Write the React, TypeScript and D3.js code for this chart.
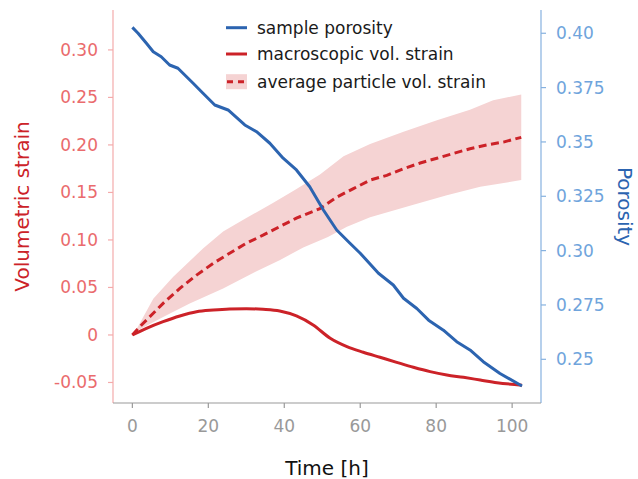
import React from "react";
import * as d3 from "d3";

// sample porosity (right axis)
const porTime = [0, 1.5, 3.7, 5.5, 7.6, 9.8, 12.0, 16.0, 18.6, 21.7, 25.2, 29.6, 32.7, 36.2, 39.7, 43.2, 46.7, 50.3, 53.8, 57.3, 60.0, 64.8, 68.7, 71.4, 74.9, 78.0, 81.9, 85.4, 88.9, 92.4, 96.8, 102.6];
const porosity = [0.4027, 0.4, 0.3954, 0.3915, 0.3892, 0.3854, 0.3839, 0.377, 0.3724, 0.367, 0.3647, 0.3578, 0.3547, 0.3494, 0.3425, 0.3371, 0.3294, 0.3187, 0.3095, 0.3034, 0.2988, 0.2896, 0.2842, 0.2781, 0.2734, 0.268, 0.2634, 0.2581, 0.2543, 0.2489, 0.2435, 0.2377];

// macroscopic vol. strain (left axis)
const macroTime = [0, 3.7, 8.1, 12.5, 16.9, 21.3, 25.6, 30.0, 34.4, 38.8, 43.2, 47.6, 52.1, 56.5, 60.8, 65.2, 69.6, 74.0, 78.4, 82.8, 87.2, 91.6, 96.0, 102.6];
const macroStrain = [0, 0.007, 0.014, 0.02, 0.0245, 0.0263, 0.0274, 0.0277, 0.027, 0.0252, 0.02, 0.0105, -0.0035, -0.0123, -0.0182, -0.0235, -0.0288, -0.034, -0.0386, -0.0421, -0.0446, -0.0474, -0.0502, -0.0528];

// average particle vol. strain (left axis)
const partTime = [0, 2.4, 5.5, 8.1, 12.5, 16.9, 21.3, 25.6, 30.0, 34.4, 38.8, 43.2, 49.4, 53.8, 58.2, 62.6, 67.0, 71.4, 75.8, 80.2, 84.5, 88.9, 93.3, 97.7, 102.4];
const partMean = [0, 0.0105, 0.0228, 0.0333, 0.049, 0.063, 0.0754, 0.086, 0.0965, 0.105, 0.114, 0.123, 0.133, 0.145, 0.154, 0.163, 0.168, 0.175, 0.181, 0.186, 0.191, 0.196, 0.2, 0.203, 0.208];

// band edges
const upperTime = [0, 1.5, 5.5, 10.7, 18.6, 23.9, 30.0, 37.0, 43.0, 49.4, 55.6, 62.6, 71.4, 80.2, 88.9, 95.0, 102.4];
const upperStrain = [0, 0.009, 0.038, 0.061, 0.091, 0.109, 0.123, 0.139, 0.153, 0.169, 0.188, 0.201, 0.214, 0.226, 0.237, 0.247, 0.253];
const lowerTime = [0, 1.5, 8.1, 15.1, 23.9, 32.7, 38.9, 45.0, 51.5, 56.5, 62.6, 74.0, 82.8, 91.6, 102.4];
const lowerStrain = [0, 0.005, 0.019, 0.033, 0.049, 0.067, 0.079, 0.092, 0.103, 0.114, 0.124, 0.137, 0.147, 0.156, 0.163];

const xTicks = [0, 20, 40, 60, 80, 100];
const leftTicks = [0.3, 0.25, 0.2, 0.15, 0.1, 0.05, 0, -0.05];
const leftTickLabels = ["0.30", "0.25", "0.20", "0.15", "0.10", "0.05", "0", "-0.05"];
const rightTicks = [0.4, 0.375, 0.35, 0.325, 0.3, 0.275, 0.25];
const rightTickLabels = ["0.40", "0.375", "0.35", "0.325", "0.30", "0.275", "0.25"];
const legendLabels = ["sample porosity", "macroscopic vol. strain", "average particle vol. strain"];

const W = 638, H = 479;
const L = 113, R = 541, T = 10, B = 403;
const FONT = "DejaVu Sans, sans-serif";

export default function App() {
  const x = d3.scaleLinear().domain([-5.1, 107.6]).range([L, R]);
  const yL = d3.scaleLinear().domain([-0.0716, 0.342]).range([B, T]);
  const yR = d3.scaleLinear().domain([0.2299, 0.4107]).range([B, T]);

  const porPts: [number, number][] = porTime.map((t, i) => [x(t), yR(porosity[i])]);
  const macroPts: [number, number][] = macroTime.map((t, i) => [x(t), yL(macroStrain[i])]);
  const meanPts: [number, number][] = partTime.map((t, i) => [x(t), yL(partMean[i])]);
  const upPts: [number, number][] = upperTime.map((t, i) => [x(t), yL(upperStrain[i])]);
  const loPts: [number, number][] = lowerTime.map((t, i) => [x(t), yL(lowerStrain[i])]);

  const lin = d3.line().curve(d3.curveLinear);
  const smooth = d3.line().curve(d3.curveMonotoneX);
  const bandPath = lin([...upPts, ...loPts.slice().reverse()]) + "Z";

  const blue = "#2c64b0";
  const red = "#cc2228";
  const pink = "#f5d3d3";

  const legendY = [27.7, 54, 81.7];

  return (
    <svg width={W} height={H} style={{ position: "absolute", left: 0, top: 0, background: "#fff" }} fontFamily={FONT}>
      <rect x={0} y={0} width={W} height={H} fill="#fff" />
      <path d={bandPath} fill={pink} stroke="none" />
      <path d={smooth(macroPts) || ""} fill="none" stroke={red} strokeWidth={3} />
      <path d={lin(meanPts) || ""} fill="none" stroke={red} strokeWidth={3} strokeDasharray="8,4.5" />
      <path d={lin(porPts) || ""} fill="none" stroke={blue} strokeWidth={3} strokeLinejoin="round" />

      {/* spines */}
      <line x1={L} x2={L} y1={T} y2={B} stroke="#f4abab" strokeWidth={1.2} />
      <line x1={R} x2={R} y1={T} y2={B} stroke="#86b1df" strokeWidth={1.2} />
      <line x1={L} x2={R} y1={B} y2={B} stroke="#9a9a9a" strokeWidth={1.2} />

      {/* x ticks */}
      {xTicks.map((t) => (
        <g key={"x" + t}>
          <line x1={x(t)} x2={x(t)} y1={B} y2={B + 5} stroke="#9a9a9a" strokeWidth={1.2} />
          <text x={x(t)} y={431.5} fontSize={17} fill="#999" textAnchor="middle">{t}</text>
        </g>
      ))}
      {/* left ticks */}
      {leftTicks.map((v, i) => (
        <g key={"l" + i}>
          <line x1={L - 5} x2={L} y1={yL(v)} y2={yL(v)} stroke="#f4abab" strokeWidth={1.2} />
          <text x={98} y={yL(v) + 6} fontSize={17} fill="#ea6b6d" textAnchor="end">{leftTickLabels[i]}</text>
        </g>
      ))}
      {/* right ticks */}
      {rightTicks.map((v, i) => (
        <g key={"r" + i}>
          <line x1={R} x2={R + 5} y1={yR(v)} y2={yR(v)} stroke="#86b1df" strokeWidth={1.2} />
          <text x={556} y={yR(v) + 6} fontSize={17} fill="#6fa4dc" textAnchor="start">{rightTickLabels[i]}</text>
        </g>
      ))}

      {/* axis labels */}
      <text x={(L + R) / 2} y={475} fontSize={20} fill="#111" textAnchor="middle">Time [h]</text>
      <text transform={`translate(29,${(T + B) / 2}) rotate(-90)`} fontSize={20} fill={red} textAnchor="middle">Volumetric strain</text>
      <text transform={`translate(618,${(T + B) / 2}) rotate(90)`} fontSize={20} fill={blue} textAnchor="middle">Porosity</text>

      {/* legend */}
      <line x1={226} x2={247} y1={legendY[0]} y2={legendY[0]} stroke={blue} strokeWidth={3} />
      <line x1={226} x2={247} y1={legendY[1]} y2={legendY[1]} stroke={red} strokeWidth={3} />
      <rect x={226} y={legendY[2] - 7.5} width={21} height={15} fill={pink} />
      <line x1={226} x2={247} y1={legendY[2]} y2={legendY[2]} stroke={red} strokeWidth={3} strokeDasharray="6,5" strokeDashoffset={-1} />
      {legendLabels.map((s, i) => (
        <text key={s} x={257} y={legendY[i] + 6} fontSize={17} fill="#1a1a1a">{s}</text>
      ))}
    </svg>
  );
}
